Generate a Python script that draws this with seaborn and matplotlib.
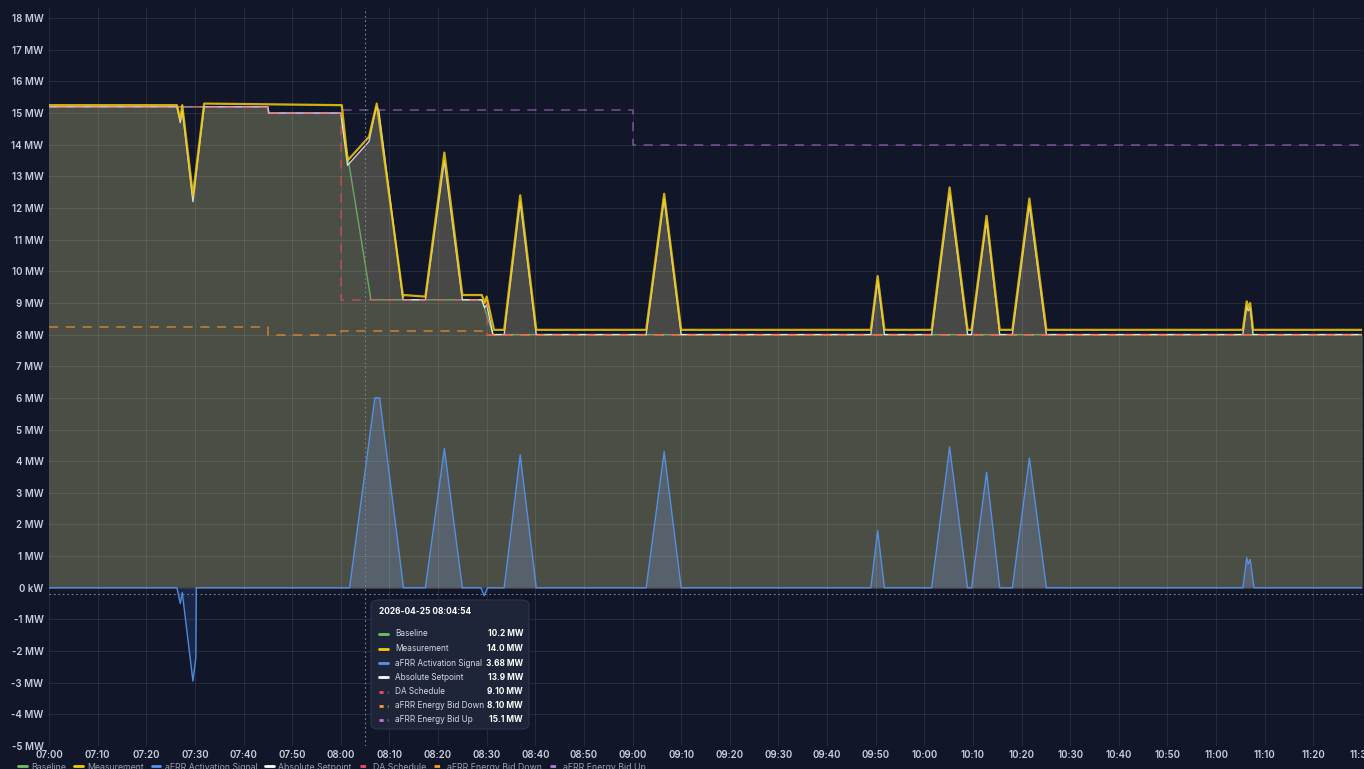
import numpy as np
import pandas as pd
import matplotlib
matplotlib.use("Agg")
import matplotlib.pyplot as plt
import seaborn as sns
from matplotlib.patches import FancyBboxPatch
from matplotlib.lines import Line2D

# ---------------- data (minutes after 07:00, values in MW) ----------------
setpoint_t = [0, 26.3, 27.0, 27.4, 29.6, 31.9, 45.0, 45.2, 60.0, 61.4, 65.8, 67.3, 67.8, 72.8,
              77.4, 81.3, 85.0, 89.0, 89.6, 90.0, 91.3, 93.6, 96.9, 100.2, 122.8, 126.5, 130.0,
              169.0, 170.4, 171.8, 181.5, 185.2, 188.9, 189.7, 192.8, 195.5, 198.1, 201.6, 205.1,
              245.5, 246.3, 246.6, 247.0, 247.6, 270.0]
setpoint_v = [15.2, 15.2, 14.7, 15.1, 12.2, 15.2, 15.2, 15.0, 15.0, 13.35, 14.1, 15.2, 15.1, 9.1,
              9.1, 13.5, 9.1, 9.1, 8.85, 8.95, 8.0, 8.0, 12.2, 8.0, 8.0, 12.3, 8.0,
              8.0, 9.7, 8.0, 8.0, 12.45, 8.0, 8.0, 11.6, 8.0, 8.0, 12.1, 8.0,
              8.0, 8.9, 8.75, 8.85, 8.0, 8.0]

measure_t = [0, 26.3, 27.0, 27.4, 29.6, 31.9, 60.2, 61.4, 65.8, 67.4, 72.8, 73.0, 77.4, 81.3,
             85.0, 89.0, 89.6, 90.0, 91.5, 93.6, 96.9, 100.2, 122.8, 126.5, 130.0, 169.0, 170.4,
             171.8, 181.5, 185.2, 188.9, 189.7, 192.8, 195.5, 198.1, 201.6, 205.1, 245.5, 246.3,
             246.6, 247.0, 247.6, 270.0]
measure_v = [15.25, 15.25, 14.8, 15.25, 12.4, 15.3, 15.25, 13.5, 14.25, 15.3, 9.2, 9.25, 9.2, 13.75,
             9.25, 9.25, 9.0, 9.2, 8.15, 8.15, 12.4, 8.15, 8.15, 12.45, 8.15, 8.15, 9.85,
             8.15, 8.15, 12.65, 8.15, 8.15, 11.75, 8.15, 8.15, 12.3, 8.15, 8.15, 9.05,
             8.85, 9.0, 8.15, 8.15]

baseline_t = [0, 45.0, 45.2, 60.0, 66.2, 89.0, 91.3, 270.0]
baseline_v = [15.2, 15.2, 15.0, 15.0, 9.1, 9.1, 8.0, 8.0]

afrr_t = [0, 26.3, 27.0, 27.4, 29.6, 30.2, 30.3, 61.8, 67.0, 68.0, 72.9, 77.4, 81.3, 85.0, 88.8,
          89.5, 90.2, 93.6, 96.9, 100.2, 122.8, 126.5, 130.0, 169.0, 170.4, 171.8, 181.5, 185.2,
          188.9, 189.7, 192.8, 195.5, 198.1, 201.6, 205.1, 245.5, 246.3, 246.6, 247.0, 247.8, 270.0]
afrr_v = [0, 0, -0.5, -0.15, -2.95, -2.2, 0, 0, 6.0, 6.0, 0, 0, 4.4, 0, 0,
          -0.25, 0, 0, 4.2, 0, 0, 4.3, 0, 0, 1.8, 0, 0, 4.45,
          0, 0, 3.65, 0, 0, 4.1, 0, 0, 0.95, 0.75, 0.9, 0, 0]

step_t = [0, 45.0, 60.0, 90.0, 120.0, 270.0]
da_v = [15.2, 15.0, 9.1, 8.0, 8.0, 8.0]
bid_down_v = [8.25, 8.0, 8.1, 8.0, 8.0, 8.0]
bid_up_v = [15.2, 15.0, 15.1, 15.1, 14.0, 14.0]

x_ticks = list(range(0, 271, 10))
x_labels = ["07:00", "07:10", "07:20", "07:30", "07:40", "07:50", "08:00", "08:10", "08:20",
            "08:30", "08:40", "08:50", "09:00", "09:10", "09:20", "09:30", "09:40", "09:50",
            "10:00", "10:10", "10:20", "10:30", "10:40", "10:50", "11:00", "11:10", "11:20", "11:30"]
y_ticks = list(range(-5, 19))
y_labels = [f"{v} MW" if v != 0 else "0 kW" for v in y_ticks]

series_names = ["Baseline", "Measurement", "aFRR Activation Signal", "Absolute Setpoint",
                "DA Schedule", "aFRR Energy Bid Down", "aFRR Energy Bid Up"]
tooltip_time = "2026-04-25 08:04:54"
tooltip_values = ["10.2 MW", "14.0 MW", "3.68 MW", "13.9 MW", "9.10 MW", "8.10 MW", "15.1 MW"]
cursor_t = 64.9
cursor_y = -0.19

# ---------------- styling ----------------
BG = "#111729"
C_BASE = "#73BF69"
C_MEAS = "#F2CC0C"
C_AFRR = "#5794F2"
C_SET = "#FFFFFF"
C_DA = "#F2495C"
C_DOWN = "#FF9830"
C_UP = "#B877D9"
TICK_C = "#c9ced8"

sns.set_theme(style="dark")
plt.rcParams['font.family'] = ['Inter', 'DejaVu Sans']

W, H = 1364, 769
fig = plt.figure(figsize=(W / 100, H / 100), dpi=100, facecolor=BG)
ax = fig.add_axes([49 / W, 1 - 746 / H, (1362 - 49) / W, (746 - 8) / H])
ax.set_facecolor(BG)

# common grid for fills
grid = np.union1d(np.union1d(setpoint_t, baseline_t), afrr_t)
sp_i = np.interp(grid, setpoint_t, setpoint_v)
bl_i = np.interp(grid, baseline_t, baseline_v)
af_i = np.interp(grid, afrr_t, afrr_v)

ax.fill_between(grid, 0, sp_i, color="#484947", lw=0, zorder=1)
ax.fill_between(grid, 0, np.minimum(bl_i, sp_i), color="#4a4e44", lw=0, zorder=1.1)
ax.fill_between(grid, 0, af_i, where=af_i >= 0, interpolate=True, color="#56616c", lw=0, zorder=1.2)
ax.fill_between(grid, 0, af_i, where=af_i <= 0, interpolate=True, color="#1a2645", lw=0, zorder=1.2)

# lines
sns.lineplot(x=baseline_t, y=baseline_v, ax=ax, color=C_BASE, lw=1.0, alpha=0.8,
             estimator=None, sort=False, zorder=3.0)
sns.lineplot(x=afrr_t, y=afrr_v, ax=ax, color=C_AFRR, lw=1.0, alpha=0.9,
             estimator=None, sort=False, zorder=3.1)
sns.lineplot(x=setpoint_t, y=setpoint_v, ax=ax, color=C_SET, lw=1.0, alpha=0.8,
             estimator=None, sort=False, zorder=3.2)
sns.lineplot(x=step_t, y=bid_down_v, ax=ax, color=C_DOWN, lw=1.1, alpha=0.7,
             drawstyle="steps-post", linestyle=(0, (6, 5)), estimator=None, sort=False, zorder=3.3)
sns.lineplot(x=step_t, y=da_v, ax=ax, color=C_DA, lw=1.1, alpha=0.65,
             drawstyle="steps-post", linestyle=(5.5, (6, 5)), estimator=None, sort=False, zorder=3.4)
sns.lineplot(x=step_t, y=bid_up_v, ax=ax, color=C_UP, lw=1.1, alpha=0.6,
             drawstyle="steps-post", linestyle=(0, (6, 5)), estimator=None, sort=False, zorder=3.5)
sns.lineplot(x=measure_t, y=measure_v, ax=ax, color=C_MEAS, lw=1.6, alpha=0.85,
             estimator=None, sort=False, zorder=3.6)

# crosshair
ax.axvline(cursor_t, color="#7a8090", lw=0.8, ls=(0, (1.5, 2.5)), zorder=4)
ax.axhline(cursor_y, color="#7a8090", lw=0.8, ls=(0, (1.5, 2.5)), zorder=4)

# axes
ax.set_xlim(0, 270)
ax.set_ylim(-5, 18.32)
ax.set_xticks(x_ticks)
ax.set_xticklabels(x_labels)
ax.set_yticks(y_ticks)
ax.set_yticklabels(y_labels)
ax.set_axisbelow(False)
ax.grid(True, color="#ffffff", alpha=0.09, lw=0.8)
ax.tick_params(axis="both", length=0, colors=TICK_C, labelsize=7)
ax.tick_params(axis="x", pad=3)
ax.tick_params(axis="y", pad=4)
for lab in ax.get_xticklabels() + ax.get_yticklabels():
    lab.set_fontweight("semibold")
for s in ax.spines.values():
    s.set_visible(False)
ax.set_xlabel("")
ax.set_ylabel("")
if ax.get_legend():
    ax.get_legend().remove()

# bottom legend (partially cut off)
colors = [C_BASE, C_MEAS, C_AFRR, C_SET, C_DA, C_DOWN, C_UP]
styles = ["-", "-", "-", "-", (0, (2, 1.5)), (0, (2, 1.5)), (0, (2, 1.5))]
handles = [Line2D([0], [0], color=c, lw=2, ls=s) for c, s in zip(colors, styles)]
fig.legend(handles, series_names, loc="center left", bbox_to_anchor=(18 / W, 1 - 767 / H),
           ncol=7, frameon=False, fontsize=6.3, labelcolor="#9aa0ad", handlelength=1.0,
           handletextpad=0.5, columnspacing=0.9, borderaxespad=0, borderpad=0)

# tooltip
def fx(px):
    return px / W


def fy(py):
    return 1 - py / H


box = FancyBboxPatch((fx(371), fy(729)), fx(529) - fx(371), fy(600) - fy(729),
                     boxstyle="round,pad=0,rounding_size=0.006", transform=fig.transFigure,
                     facecolor="#1e2539", edgecolor="#2c3550", lw=0.8, zorder=10)
fig.patches.append(box)
fig.text(fx(379), fy(611), tooltip_time, color="#ffffff", fontsize=6.0, fontweight="bold",
         va="center", ha="left", zorder=11)
row_y = [634, 648.5, 663, 677, 691.5, 705.5, 720]
for name, val, c, s, yy in zip(series_names, tooltip_values, colors, styles, row_y):
    fig.add_artist(Line2D([fx(379), fx(388)], [fy(yy), fy(yy)], color=c, lw=2,
                          ls=s if s == "-" else (0, (1.5, 1.5)), transform=fig.transFigure, zorder=11))
    fig.text(fx(395), fy(yy), name, color="#d4d8e0", fontsize=5.9, va="center", ha="left", zorder=11)
    fig.text(fx(523), fy(yy), val, color="#ffffff", fontsize=6.0, fontweight="bold",
             va="center", ha="right", zorder=11)

fig.savefig("out.png", dpi=100, facecolor=BG)
